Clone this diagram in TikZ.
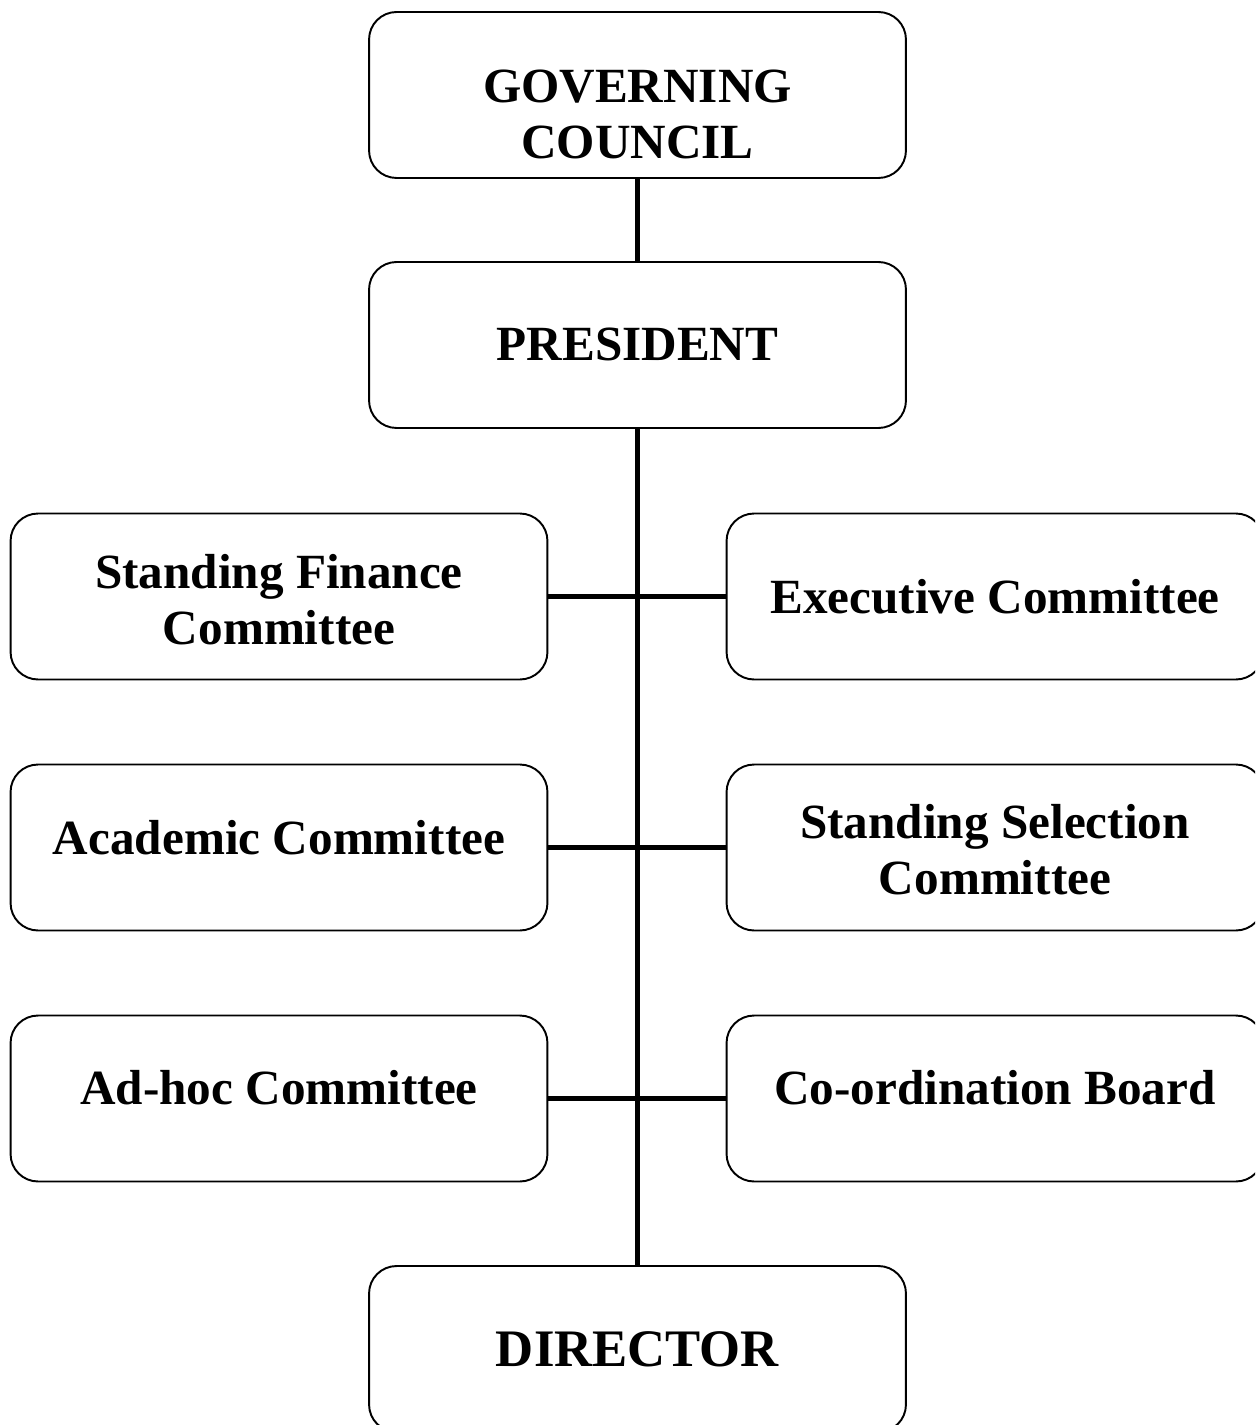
\documentclass[tikz,border=0pt]{standalone}
\usepackage{fontspec}
\setmainfont{Liberation Serif}

% lower the text inside a box, keeping the box size
\newcommand{\droptext}[2]{\raisebox{-#1}[\height][\depth]{\begin{tabular}{@{}c@{}}#2\end{tabular}}}

\tikzset{
    orgbox/.style={draw, line width=1.1pt, rounded corners=0.55cm,
        minimum width=10.74cm, minimum height=3.32cm, align=center,
        font=\bfseries\fontsize{28}{32}\selectfont},
    link/.style={line width=2.6pt},
    trunk/.style={line width=3.2pt}
}

\begin{document}
\begin{tikzpicture}[x=0.02cm, y=-0.02cm]
                    \useasboundingbox (0,0) rectangle (1255,1425);
                    \clip (0,0) rectangle (1255,1425);
                    \node[orgbox] (gov) at (637.5,95) {\droptext{0.48cm}{GOVERNING\\COUNCIL}};
                    \node[orgbox] (pres) at (637.5,345) {\droptext{0.08cm}{PRESIDENT}};
                    \node[orgbox] (sfc) at (279,596.5) {\droptext{0.18cm}{Standing Finance\\Committee}};
                    \node[orgbox] (exec) at (995,596.5) {Executive Committee};
                    \node[orgbox] (acad) at (279,847.5) {\droptext{-0.08cm}{Academic Committee}};
                    \node[orgbox] (ssc) at (995,847.5) {\droptext{0.16cm}{Standing Selection\\Committee}};
                    \node[orgbox] (adhoc) at (279,1098.5) {\droptext{-0.1cm}{Ad-hoc Committee}};
                    \node[orgbox] (coord) at (995,1098.5) {\droptext{-0.1cm}{Co-ordination Board}};
                    \node[orgbox, font=\bfseries\fontsize{30}{34}\selectfont] (dir) at (637.5,1349) {DIRECTOR};

                    \draw[trunk] (gov) -- (pres);
                    \draw[trunk] (pres) -- (dir);
                    \draw[link] (sfc) -- (exec);
                    \draw[link] (acad) -- (ssc);
                    \draw[link] (adhoc) -- (coord);
                \end{tikzpicture}
\end{document}
